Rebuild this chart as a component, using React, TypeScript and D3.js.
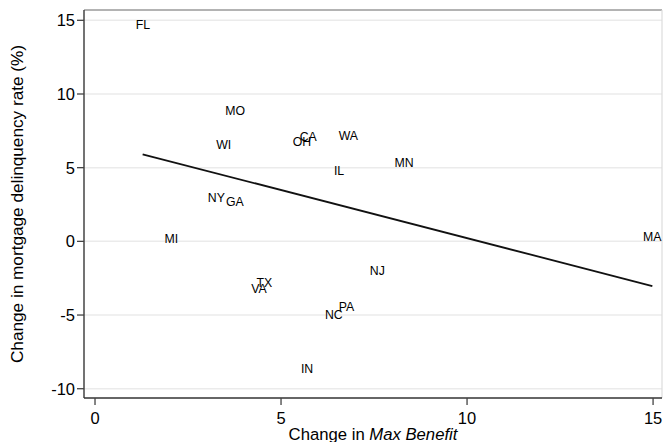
import React from "react";
import * as d3 from "d3";

const states = ["FL", "MO", "WI", "CA", "OH", "WA", "IL", "MN", "NY", "GA", "MI", "MA", "NJ", "TX", "VA", "PA", "NC", "IN"];
const maxBenefitChange = [1.29, 3.77, 3.46, 5.73, 5.56, 6.81, 6.56, 8.31, 3.26, 3.76, 2.05, 14.98, 7.59, 4.55, 4.41, 6.76, 6.42, 5.70];
const delinquencyChange = [14.74, 8.90, 6.59, 7.10, 6.80, 7.20, 4.78, 5.32, 2.94, 2.67, 0.20, 0.35, -1.99, -2.82, -3.18, -4.41, -4.94, -8.61];
const fitX = [1.28, 14.98];
const fitY = [5.91, -3.03];
const xTicks = [0, 5, 10, 15];
const yTicks = [15, 10, 5, 0, -5, -10];

const W = 663;
const H = 442;
const left = 84;
const right = 662;
const top = 10;
const bottom = 398;
const FONT = "'Liberation Sans', Arial, Helvetica, sans-serif";

export default function App() {
  const x = d3.scaleLinear().domain([-0.296, 15.24]).range([left, right]);
  const y = d3.scaleLinear().domain([15.7, -10.63]).range([top, bottom]);
  const line = d3
    .line<number>()
    .x((_, i) => x(fitX[i]))
    .y((d) => y(d));

  return (
    <svg
      width={W}
      height={H}
      style={{ position: "absolute", left: 0, top: 0, background: "#fff" }}
      fontFamily={FONT}
    >
      <rect x={0} y={0} width={W} height={H} fill="#fff" />
      {yTicks.map((t) => (
        <line key={"g" + t} x1={left} x2={right} y1={y(t)} y2={y(t)} stroke="#ebebeb" strokeWidth={1.5} />
      ))}
      <line x1={left} x2={right} y1={top} y2={top} stroke="#9a9a9a" strokeWidth={1.5} />
      <line x1={right} x2={right} y1={top} y2={bottom} stroke="#dcdcdc" strokeWidth={1.2} />
      <path d={line(fitY) || ""} fill="none" stroke="#111" strokeWidth={1.8} />
      {states.map((s, i) => (
        <text
          key={s}
          x={x(maxBenefitChange[i])}
          y={y(delinquencyChange[i])}
          dy="0.36em"
          textAnchor="middle"
          fontSize={12.3}
          fill="#000"
        >
          {s}
        </text>
      ))}
      <line x1={left} x2={left} y1={top} y2={bottom} stroke="#444" strokeWidth={1.5} />
      <line x1={left} x2={right} y1={bottom} y2={bottom} stroke="#333" strokeWidth={1.5} />
      {yTicks.map((t) => (
        <g key={"y" + t}>
          <line x1={left - 7} x2={left} y1={y(t)} y2={y(t)} stroke="#444" strokeWidth={1.3} />
          <text x={left - 9} y={y(t)} dy="0.36em" textAnchor="end" fontSize={16.5} fill="#000">
            {t}
          </text>
        </g>
      ))}
      {xTicks.map((t) => (
        <g key={"x" + t}>
          <line x1={x(t)} x2={x(t)} y1={bottom} y2={bottom + 7} stroke="#444" strokeWidth={1.3} />
          <text x={x(t)} y={424} textAnchor="middle" fontSize={16.5} fill="#000">
            {t}
          </text>
        </g>
      ))}
      <text
        transform={`translate(22.7, ${(top + bottom) / 2}) rotate(-90)`}
        textAnchor="middle"
        fontSize={17.2}
        fill="#000"
      >
        Change in mortgage delinquency rate (%)
      </text>
      <text x={(left + right) / 2} y={440} textAnchor="middle" fontSize={16.7} fill="#000">
        Change in <tspan fontStyle="italic">Max Benefit</tspan>
      </text>
    </svg>
  );
}
